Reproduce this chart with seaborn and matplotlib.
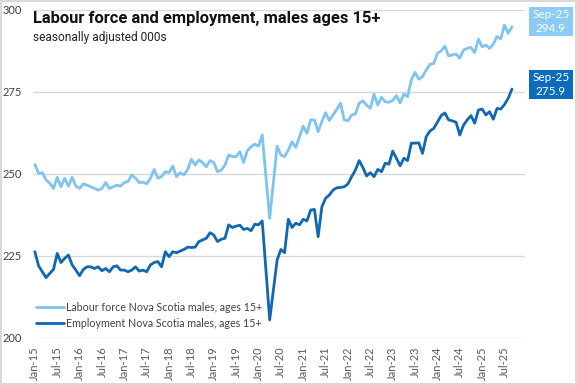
import matplotlib
matplotlib.use('Agg')
import matplotlib.pyplot as plt
from matplotlib.patches import Rectangle
import seaborn as sns
import pandas as pd

# Monthly values, Jan-15 .. Sep-25 (000s)
labour_force = [252.9, 250.2, 250.4, 248.2, 247.2, 245.6, 249.0, 246.1, 248.7, 246.3,
                249.0, 246.3, 245.6, 247.0, 246.6, 246.1, 245.6, 245.1, 245.6, 247.4,
                245.6, 246.1, 246.6, 246.3, 247.4, 247.7, 249.7, 248.7, 247.4, 247.5,
                247.0, 248.7, 251.4, 248.7, 249.2, 250.7, 250.4, 252.4, 249.2, 250.4,
                249.7, 251.4, 254.5, 252.7, 254.3, 253.5, 252.2, 254.1, 253.5, 250.7,
                251.2, 252.7, 255.8, 255.3, 255.3, 256.8, 253.5, 257.1, 258.3, 259.1,
                258.5, 261.9, 249.0, 236.5, 247.5, 258.5, 255.8, 255.3, 257.3, 259.8,
                258.1, 261.4, 264.6, 262.4, 266.5, 266.5, 262.9, 266.0, 268.7, 266.3,
                268.0, 269.7, 271.6, 266.5, 266.2, 268.0, 268.3, 271.6, 272.3, 271.0,
                270.0, 274.3, 271.0, 273.4, 272.0, 271.9, 272.4, 273.9, 271.7, 274.4,
                273.6, 278.7, 281.0, 278.9, 279.7, 281.7, 283.4, 283.7, 286.8, 287.5,
                289.0, 286.0, 286.3, 286.6, 285.3, 287.8, 288.3, 288.6, 287.0, 291.1,
                288.8, 289.3, 288.3, 289.6, 291.9, 291.2, 295.4, 292.9, 294.9]

employment = [226.3, 222.0, 220.2, 218.4, 219.7, 220.9, 225.8, 223.0, 224.3, 225.3,
              222.3, 220.7, 219.0, 220.9, 221.7, 221.7, 221.2, 221.7, 220.5, 221.2,
              220.2, 221.7, 222.0, 220.7, 220.7, 220.2, 220.7, 221.7, 220.4, 220.7,
              220.2, 222.3, 223.0, 223.3, 221.7, 226.3, 224.8, 226.3, 226.0, 226.5,
              227.0, 227.7, 227.6, 227.7, 229.4, 229.9, 230.4, 232.1, 231.4, 229.4,
              230.1, 230.4, 234.5, 233.7, 234.1, 234.4, 233.1, 233.4, 232.7, 234.7,
              234.5, 235.7, 220.6, 205.5, 214.7, 223.8, 227.0, 226.0, 236.2, 233.7,
              235.0, 234.5, 236.2, 235.7, 239.0, 239.2, 230.9, 240.0, 242.6, 243.6,
              245.1, 245.8, 245.9, 246.1, 247.0, 249.2, 251.2, 254.1, 252.0, 249.4,
              250.4, 249.2, 251.4, 250.7, 253.3, 253.0, 257.0, 254.8, 252.5, 254.8,
              254.1, 259.4, 259.4, 259.5, 256.3, 261.4, 263.1, 263.9, 265.8, 267.8,
              268.6, 266.5, 266.2, 265.8, 261.9, 264.9, 266.5, 267.8, 265.5, 269.5,
              269.8, 268.0, 269.0, 266.7, 270.0, 269.8, 271.2, 273.1, 275.9]

months = pd.date_range('2015-01-01', periods=len(labour_force), freq='MS')
tick_labels = [d.strftime('%b-%y') for d in months]

LIGHT = '#7fc3f0'
DARK = '#1167b1'
LIGHT_BOX = '#8ccbf5'
DARK_BOX = '#0b6bbd'

df = pd.DataFrame({
    'idx': list(range(len(months))) * 2,
    'value': labour_force + employment,
    'series': ['Labour force Nova Scotia males, ages 15+'] * len(months)
              + ['Employment Nova Scotia males, ages 15+'] * len(months),
})

sns.set_style('white')
plt.rcParams['font.family'] = ['Lato', 'DejaVu Sans']

fig = plt.figure(figsize=(5.77, 3.85), dpi=100)
fig.patch.set_edgecolor('#d9d9d9')
fig.patch.set_linewidth(1.5)
ax = fig.add_axes([33 / 577, 1 - 338 / 385, (525 - 33) / 577, (338 - 10) / 385])

sns.lineplot(data=df, x='idx', y='value', hue='series',
             palette=[LIGHT, DARK], linewidth=2.0, ax=ax)

ax.set_xlim(-0.5, 131.5)
ax.set_ylim(200, 300)
ax.set_yticks([200, 225, 250, 275, 300])
ax.yaxis.grid(True, color='#d9d9d9', linewidth=1)
ax.set_axisbelow(True)
for s in ax.spines.values():
    s.set_visible(False)

tick_pos = list(range(0, len(months), 6))
ax.set_xticks(tick_pos)
ax.set_xticklabels([tick_labels[i] for i in tick_pos], rotation=90, fontsize=8, color='#595959')
ax.tick_params(axis='y', labelsize=8, labelcolor='#404040', length=0, pad=8)
ax.tick_params(axis='x', length=0, pad=6)
ax.set_xlabel('')
ax.set_ylabel('')

leg = ax.legend(loc='lower left', bbox_to_anchor=(-0.003, 0.015), frameon=False,
                fontsize=7.7, handlelength=2.6, handletextpad=0.25, labelspacing=0.45,
                borderaxespad=0)
for t in leg.get_texts():
    t.set_color('#404040')

fig.text(33 / 577, 1 - 19 / 385, 'Labour force and employment, males ages 15+',
         fontsize=11.9, fontweight='bold', family=['Roboto', 'DejaVu Sans'],
         color='#111111', va='center', ha='left')
fig.text(33 / 577, 1 - 37 / 385, 'seasonally adjusted 000s',
         fontsize=8.6, family=['Roboto', 'DejaVu Sans'], color='#222222',
         va='center', ha='left')

# end-of-series value boxes
fig.canvas.draw()
last = len(months) - 1
for vals, col in [(labour_force, LIGHT_BOX), (employment, DARK_BOX)]:
    _, ypix = ax.transData.transform((last, vals[-1]))
    yc = ypix + 5
    h = 29
    fig.patches.append(Rectangle((529 / 577, (yc - h / 2) / 385), 44 / 577, h / 385,
                                 transform=fig.transFigure, facecolor=col, edgecolor='none'))
    fig.text(551 / 577, (yc + 7) / 385, tick_labels[last], color='white', fontsize=8.5,
             ha='center', va='center')
    fig.text(551 / 577, (yc - 7) / 385, f'{vals[-1]:.1f}', color='white', fontsize=8.5,
             ha='center', va='center')

fig.savefig('out.png', dpi=100)
